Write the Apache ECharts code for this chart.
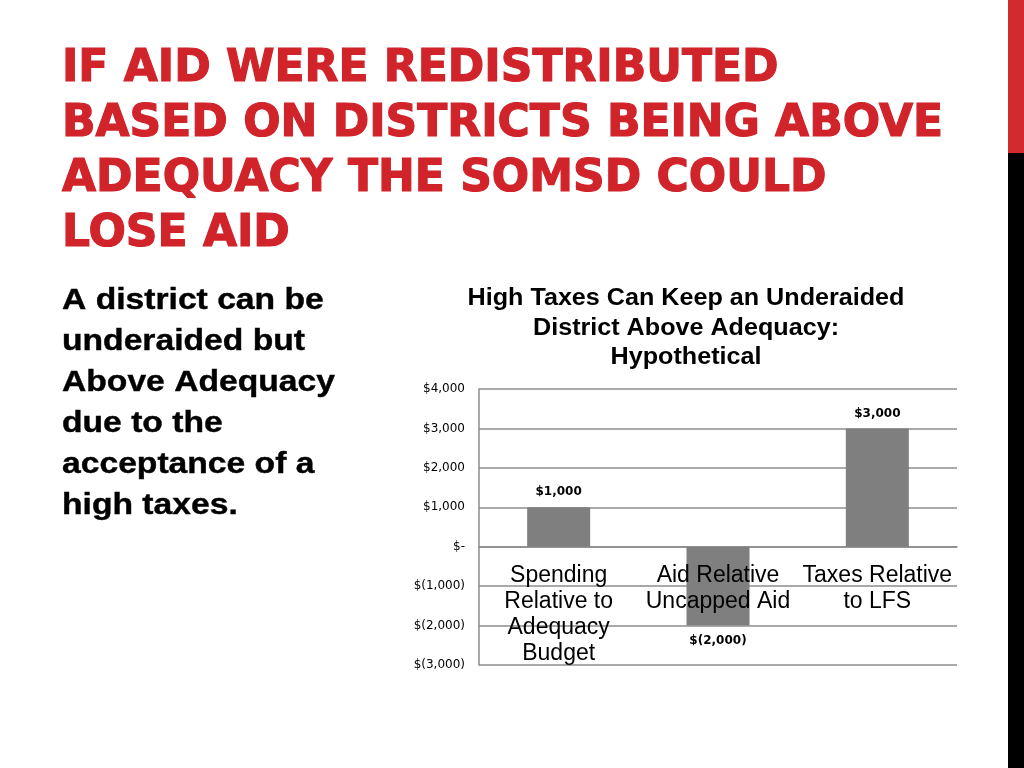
<!DOCTYPE html>
<html><head><meta charset="utf-8">
<script src="https://cdn.jsdelivr.net/npm/echarts@6/dist/echarts.min.js"></script>
<style>html,body{margin:0;padding:0;background:#fff}#c{width:1024px;height:768px}</style>
</head><body><div id="c"></div>
<script>
const categories = ["Spending\nRelative to\nAdequacy\nBudget", "Aid Relative\nUncapped Aid", "Taxes Relative\nto LFS"];
const values = [1000, -2000, 3000];
const yTicks = [-3000, -2000, -1000, 0, 1000, 2000, 3000, 4000];
const slideTitle = ["IF AID WERE REDISTRIBUTED", "BASED ON DISTRICTS BEING ABOVE", "ADEQUACY THE SOMSD COULD", "LOSE AID"];
const bodyLines = ["A district can be", "underaided but", "Above Adequacy", "due to the", "acceptance of a", "high taxes."];
const chartTitle = ["High Taxes Can Keep an Underaided", "District Above Adequacy:", "Hypothetical"];

function money(v){
  if (v === 0) return '$-';
  const s = Math.abs(v).toLocaleString('en-US');
  return v < 0 ? '$(' + s + ')' : '$' + s;
}

const chart = echarts.init(document.getElementById('c'));
const graphics = [
  {type:'rect', shape:{x:1008,y:0,width:16,height:153}, style:{fill:'#d32a2f'}},
  {type:'rect', shape:{x:1008,y:153,width:16,height:615}, style:{fill:'#000'}}
];
slideTitle.forEach((t,i)=>graphics.push({type:'text', x:62, y:70+i*54.7,
  style:{text:t, fill:'#d1232a', stroke:'#d1232a', lineWidth:1.2, font:'bold 44px "DejaVu Sans"', verticalAlign:'middle'}}));
bodyLines.forEach((t,i)=>graphics.push({type:'text', x:62, y:301+i*41, scaleX:1.16,
  style:{text:t, fill:'#000', stroke:'#000', lineWidth:0.4, font:'bold 29px "Liberation Sans"', verticalAlign:'middle'}}));
chartTitle.forEach((t,i)=>graphics.push({type:'text', x:686, y:299+i*29.5, scaleX:1.07,
  style:{text:t, fill:'#000', font:'bold 23.5px "Liberation Sans"', align:'center', verticalAlign:'middle'}}));

chart.setOption({
  animation:false,
  graphic: graphics,
  grid:{left:479, right:67, top:389, bottom:103, containLabel:false, outerBoundsMode:'none'},
  xAxis:{type:'category', data:categories,
    axisLine:{onZero:true, lineStyle:{color:'#8c8c8c', width:1.5}},
    axisTick:{show:false},
    axisLabel:{show:false}},
  yAxis:{type:'value', min:yTicks[0], max:yTicks[yTicks.length-1], interval:1000,
    axisLine:{show:true, lineStyle:{color:'#8c8c8c', width:1.5}},
    axisTick:{show:false},
    splitLine:{lineStyle:{color:'#8c8c8c', width:1.5}},
    axisLabel:{color:'#000', fontSize:12, fontFamily:'DejaVu Sans', margin:14, formatter:money}},
  series:[
    {type:'bar', data:values.map(v=>({value:v, label:{position: v<0?'bottom':'top'}})),
      barWidth:63, itemStyle:{color:'#7f7f7f'},
      label:{show:true, distance:9, color:'#000', fontWeight:'bold', fontSize:12, fontFamily:'DejaVu Sans',
        formatter:p=>money(p.value)}},
    {type:'scatter', data:categories.map((c,i)=>[i,0]), symbol:'circle', symbolSize:2,
      itemStyle:{color:'rgba(0,0,0,0)', opacity:1}, silent:true, z:10,
      label:{show:true, position:'bottom', distance:15, color:'#000', fontSize:23, fontFamily:'Liberation Sans',
        lineHeight:26, align:'center', formatter:p=>categories[p.dataIndex]}}
  ]
});
</script></body></html>
